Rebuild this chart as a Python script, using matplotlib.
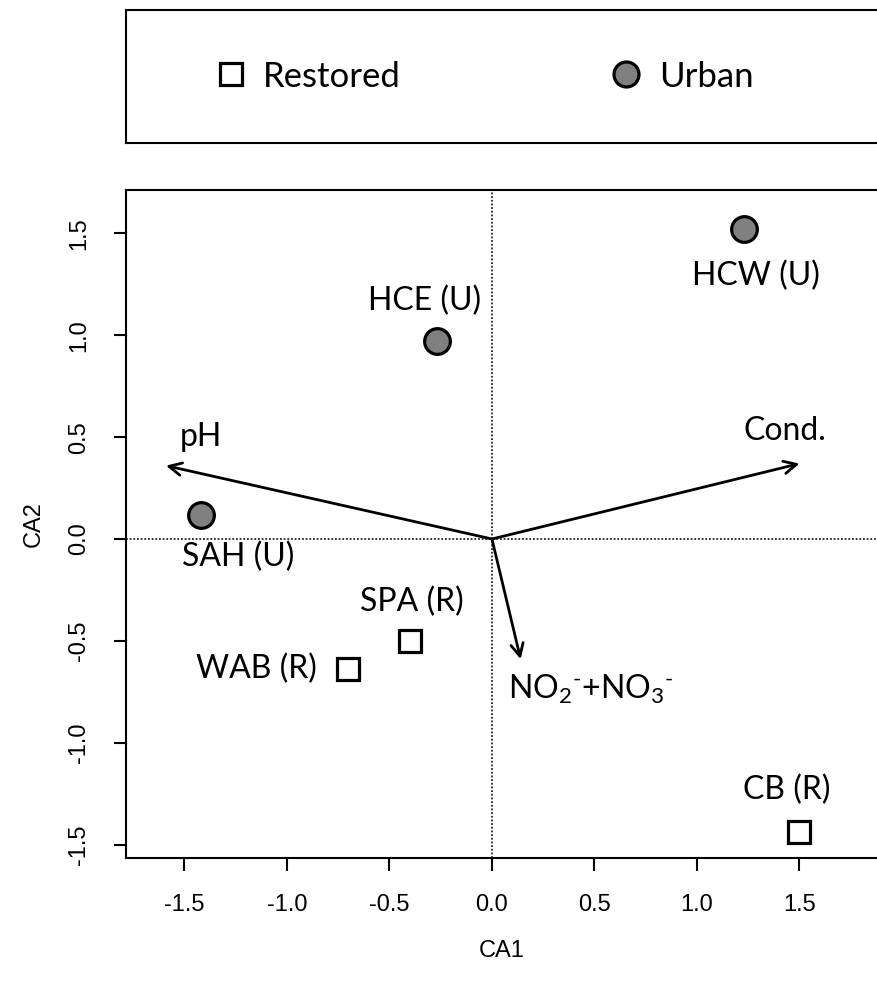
import matplotlib
matplotlib.use('Agg')
import matplotlib.pyplot as plt
from matplotlib.lines import Line2D

# site scores
sites = ['HCW (U)', 'HCE (U)', 'SAH (U)', 'SPA (R)', 'WAB (R)', 'CB (R)']
site_type = ['Urban', 'Urban', 'Urban', 'Restored', 'Restored', 'Restored']
ca1 = [1.23, -0.27, -1.42, -0.40, -0.70, 1.50]
ca2 = [1.52, 0.97, 0.12, -0.50, -0.64, -1.44]
# where each site name sits
site_lab_x = [1.29, -0.33, -1.24, -0.39, -1.15, 1.44]
site_lab_y = [1.29, 1.17, -0.09, -0.31, -0.64, -1.23]

# environmental vectors
env_vars = ['pH', 'Cond.', r'NO$_2$$^{\text{-}}$+NO$_3$$^{\text{-}}$']
env_x = [-1.59, 1.50, 0.14]
env_y = [0.36, 0.37, -0.59]
env_lab_x = [-1.42, 1.43, 0.48]
env_lab_y = [0.50, 0.53, -0.74]

label_font = 'Lato'
tick_font = 'Liberation Sans'
plt.rcParams['mathtext.fontset'] = 'custom'
plt.rcParams['mathtext.rm'] = label_font
plt.rcParams['mathtext.it'] = label_font

fig = plt.figure(figsize=(8.78, 9.85), dpi=100)

# legend box on top
lax = fig.add_axes([0.1435, 0.8548, 0.8565, 0.135])
lax.set_xticks([])
lax.set_yticks([])
lax.spines['right'].set_visible(False)
for s in lax.spines.values():
    s.set_linewidth(1.5)
handles = [
    Line2D([], [], marker='s', ls='none', ms=16, mfc='white', mec='black', mew=2.3),
    Line2D([], [], marker='o', ls='none', ms=18, mfc='#808080', mec='black', mew=2.3),
]
lax.legend(handles, ['Restored', 'Urban'], loc='center left', bbox_to_anchor=(0.0745, 0.5),
           ncol=2, frameon=False, handlelength=1.0, handletextpad=0.43,
           columnspacing=6.0, prop={'family': label_font, 'size': 25})

ax = fig.add_axes([0.1435, 0.1289, 0.8565, 0.6782])
ax.set_xlim(-1.785, 1.883)
ax.set_ylim(-1.566, 1.713)
ax.spines['right'].set_visible(False)
for s in ax.spines.values():
    s.set_linewidth(1.5)

ax.axhline(0, color='black', ls=(0, (1.2, 1.2)), lw=1.1)
ax.axvline(0, color='black', ls=(0, (1.2, 1.2)), lw=1.1)

for x, y, t in zip(ca1, ca2, site_type):
    if t == 'Urban':
        ax.plot(x, y, 'o', ms=18.5, mfc='#808080', mec='black', mew=2.3, zorder=4)
    else:
        ax.plot(x, y, 's', ms=16.5, mfc='white', mec='black', mew=2.3, zorder=4)

for name, lx, ly in zip(sites, site_lab_x, site_lab_y):
    ax.text(lx, ly, name, ha='center', va='center', family=label_font, fontsize=23)

for name, x, y, lx, ly in zip(env_vars, env_x, env_y, env_lab_x, env_lab_y):
    ax.annotate('', xy=(x, y), xytext=(0, 0),
                arrowprops=dict(arrowstyle='->,head_length=0.9,head_width=0.45',
                                lw=2.0, color='black', shrinkA=0, shrinkB=0))
    ax.text(lx, ly, name, ha='center', va='center', family=label_font, fontsize=23)

ax.set_xticks([-1.5, -1.0, -0.5, 0.0, 0.5, 1.0, 1.5])
ax.set_yticks([-1.5, -1.0, -0.5, 0.0, 0.5, 1.0, 1.5])
ax.set_xticklabels(['-1.5', '-1.0', '-0.5', '0.0', '0.5', '1.0', '1.5'])
ax.set_yticklabels(['-1.5', '-1.0', '-0.5', '0.0', '0.5', '1.0', '1.5'],
                   rotation=90, va='center')
ax.tick_params(axis='both', length=9, width=1.5, labelsize=17, pad=17)
for lab in ax.get_xticklabels() + ax.get_yticklabels():
    lab.set_family(tick_font)

ax.set_xlabel('CA1', family=tick_font, fontsize=17, labelpad=17)
ax.set_ylabel('CA2', family=tick_font, fontsize=17, labelpad=17)

fig.savefig('out.png', dpi=100)
